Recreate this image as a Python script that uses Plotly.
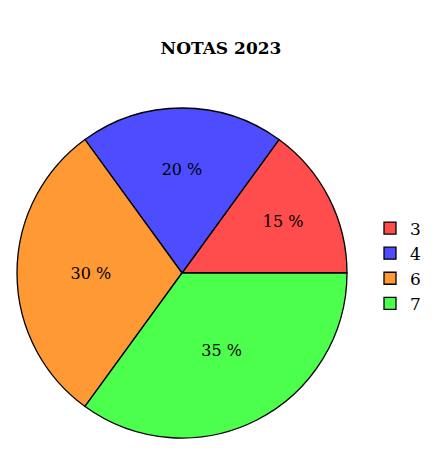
import plotly.graph_objects as go

labels = ["3", "4", "6", "7"]
values = [15, 20, 30, 35]
colors = ["#FF4D4D", "#4D4DFF", "#FF9933", "#4DFF4D"]
title = "NOTAS 2023"

OFF = 8  # page body margin
W, H = 440 - OFF, 466 - OFF


def px(x):
    return (x - OFF) / W


def py(y):
    return 1 - (y - OFF) / H


fig = go.Figure(go.Pie(
    labels=labels, values=values, sort=False, direction="counterclockwise",
    rotation=36,
    marker=dict(colors=colors, line=dict(color="black", width=1.3)),
    texttemplate="%{value} %", textposition="inside", insidetextorientation="horizontal",
    textfont=dict(family="DejaVu Serif", size=16, color="black"),
    domain=dict(x=[px(17), px(347)], y=[py(438), py(108)]),
    hoverinfo="label+percent",
))
fig.update_layout(
    width=W, height=H, margin=dict(l=0, r=0, t=0, b=0),
    paper_bgcolor="white", plot_bgcolor="white",
    title=dict(text="<b>" + title + "</b>", x=px(221), xanchor="center", y=py(48), yanchor="middle",
               font=dict(family="DejaVu Serif", size=17, color="black")),
    legend=dict(x=px(370), y=py(266), xanchor="left", yanchor="middle",
                font=dict(family="DejaVu Serif", size=17, color="black"),
                itemwidth=30, tracegroupgap=0),
    font=dict(family="DejaVu Serif"),
)
fig.write_html("out.html")
